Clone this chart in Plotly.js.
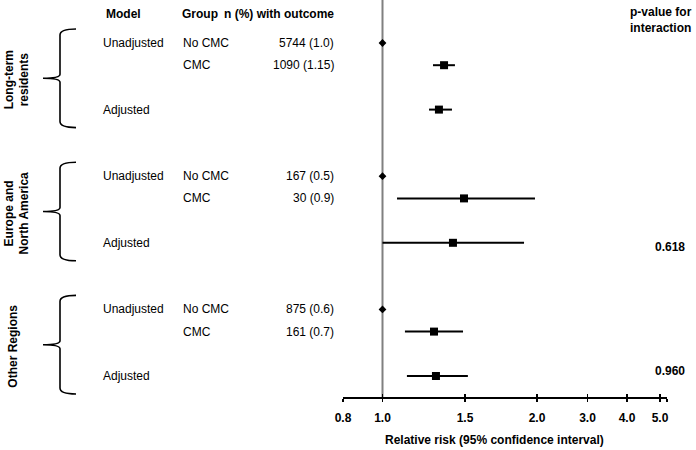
<!DOCTYPE html>
<html>
<head>
<meta charset="utf-8">
<script src="https://cdn.plot.ly/plotly-3.0.1.min.js"></script>
<style>html,body{margin:0;padding:0;background:#fff;}#chart{width:696px;height:450px;}</style>
</head>
<body>
<div id="chart"></div>
<script>
// ---------- data ----------
const regions = ['Long-term<br>residents', 'Europe and<br>North America', 'Other Regions'];
const rowModel = ['Unadjusted', '', 'Adjusted'];
const rowGroup = ['No CMC', 'CMC', ''];
const nOutcome = [
  ['5744 (1.0)', '1090 (1.15)', ''],
  ['167 (0.5)', '30 (0.9)', ''],
  ['875 (0.6)', '161 (0.7)', '']
];
const rr     = [[1.0, 1.373, 1.342], [1.0, 1.494, 1.427], [1.0, 1.312, 1.324]];
const ciLow  = [[null, 1.306, 1.282], [null, 1.088, 1.000], [null, 1.136, 1.148]];
const ciHigh = [[null, 1.439, 1.421], [null, 1.986, 1.910], [null, 1.488, 1.520]];
const pInteraction = ['', '0.618', '0.960'];
const tickVals = [0.8, 1.0, 1.5, 2.0, 3.0, 4.0, 5.0];
const tickText = ['0.8', '1.0', '1.5', '2.0', '3.0', '4.0', '5.0'];

// ---------- axis scale (hand-drawn, piecewise) ----------
const AXIS_POS = [-0.395, 0, 0.825, 1.545, 2.05, 2.445, 2.775];
const AXIS_END = 2.845;
function scale(v) {
  for (let i = 0; i < tickVals.length - 1; i++) {
    if (v <= tickVals[i + 1] || i === tickVals.length - 2) {
      const t = (v - tickVals[i]) / (tickVals[i + 1] - tickVals[i]);
      return AXIS_POS[i] + t * (AXIS_POS[i + 1] - AXIS_POS[i]);
    }
  }
}

// ---------- layout constants ----------
const W = 696, PLOT_H = 397;
const ROW_OFF = [0, 1, 3], GROUP_STEP = 6;
const ROW0_PX = 43, ROW_PX = 22.2;
const rowIdx = (g, k) => g * GROUP_STEP + ROW_OFF[k];
const pxX = p => p / W;
const pxY = p => 1 - p / PLOT_H;
const rowPx = r => ROW0_PX + r * ROW_PX;
const FONT = 'Liberation Sans, Arial, sans-serif';

// ---------- traces ----------
const refX = [], refY = [], estX = [], estY = [], ePlus = [], eMinus = [];
regions.forEach((_, g) => {
  rowModel.forEach((_, k) => {
    if (ciLow[g][k] === null) {
      refX.push(scale(rr[g][k])); refY.push(rowIdx(g, k));
    } else {
      const c = scale(rr[g][k]);
      estX.push(c); estY.push(rowIdx(g, k));
      ePlus.push(scale(ciHigh[g][k]) - c);
      eMinus.push(c - scale(ciLow[g][k]));
    }
  });
});

const traces = [
  {
    x: refX, y: refY, type: 'scatter', mode: 'markers',
    marker: {symbol: 'diamond', size: 6, color: '#000'},
    hoverinfo: 'skip', showlegend: false
  },
  {
    x: estX, y: estY, type: 'scatter', mode: 'markers',
    marker: {symbol: 'square', size: 8, color: '#000'},
    error_x: {type: 'data', symmetric: false, array: ePlus, arrayminus: eMinus,
              color: '#000', thickness: 2, width: 0},
    hoverinfo: 'skip', showlegend: false
  },
  // invisible trace on overlay axis for crossing ticks
  {x: [AXIS_POS[0]], y: [0], xaxis: 'x2', type: 'scatter', mode: 'markers',
   marker: {opacity: 0}, hoverinfo: 'skip', showlegend: false}
];

// ---------- annotations ----------
const ann = [];
const txt = (text, xp, y, anchor, opts) => Object.assign({
  text, x: pxX(xp), xref: 'paper', y, yref: 'y', xanchor: anchor, yanchor: 'middle',
  showarrow: false, font: {family: FONT, size: 12, color: '#000'}
}, opts || {});

// headers
ann.push(txt('<b>Model</b>', 104, pxY(14), 'left', {yref: 'paper'}));
ann.push(txt('<b>Group</b>', 180, pxY(14), 'left', {yref: 'paper'}));
ann.push(txt('<b>n (%) with outcome</b>', 336, pxY(14), 'right', {yref: 'paper'}));
ann.push(txt('<b>p-value for<br>interaction</b>', 694, pxY(20), 'right', {yref: 'paper', align: 'right'}));

regions.forEach((name, g) => {
  rowModel.forEach((m, k) => {
    const r = rowIdx(g, k);
    if (m) ann.push(txt(m, 101, r, 'left'));
    if (rowGroup[k]) ann.push(txt(rowGroup[k], 181, r, 'left'));
    if (nOutcome[g][k]) ann.push(txt(nOutcome[g][k], 336, r, 'right'));
  });
  const top = rowPx(rowIdx(g, 0)) - 14, bot = rowPx(rowIdx(g, 2)) + 18, mid = (top + bot) / 2;
  ann.push(txt('<b>' + name + '</b>', name.indexOf('<br>') >= 0 ? 17 : 13, pxY(mid + 2), 'center',
               {yref: 'paper', textangle: -90, xanchor: 'center'}));
  if (pInteraction[g]) {
    ann.push(txt('<b>' + pInteraction[g] + '</b>', 687, rowIdx(g, 2), 'right',
                 {yshift: g === 1 ? -4 : 5}));
  }
});
ann.push(txt('<b>Relative risk (95% confidence interval)</b>', 494, pxY(440), 'center',
             {yref: 'paper', font: {family: FONT, size: 12, color: '#000'}}));

// ---------- shapes ----------
const shapes = [
  {type: 'line', xref: 'x', yref: 'paper', x0: scale(1.0), x1: scale(1.0), y0: 0, y1: 1,
   line: {color: '#808080', width: 2}, layer: 'below'}
];
regions.forEach((_, g) => {
  const top = rowPx(rowIdx(g, 0)) - 14, bot = rowPx(rowIdx(g, 2)) + 18, mid = (top + bot) / 2;
  const P = (x, y) => pxX(x) + ',' + pxY(y);
  const path = 'M ' + P(76, top) + ' Q ' + P(60, top) + ' ' + P(60, top + 6) +
    ' L ' + P(60, mid - 4) + ' Q ' + P(60, mid) + ' ' + P(43, mid) +
    ' Q ' + P(60, mid) + ' ' + P(60, mid + 4) +
    ' L ' + P(60, bot - 6) + ' Q ' + P(60, bot) + ' ' + P(76, bot);
  shapes.push({type: 'path', xref: 'paper', yref: 'paper', path, line: {color: '#000', width: 1.6}});
});

const allTickPos = AXIS_POS.concat([AXIS_END]);
const allTickText = tickText.concat(['']);
const xCommon = {
  domain: [343 / W, 667 / W], range: [AXIS_POS[0], AXIS_END],
  tickmode: 'array', tickvals: allTickPos, showgrid: false, zeroline: false,
  ticklen: 3, tickwidth: 1.5, tickcolor: '#000', fixedrange: true
};

const layout = {
  width: 696, height: 450,
  margin: {l: 0, r: 0, t: 0, b: 450 - PLOT_H},
  paper_bgcolor: '#fff', plot_bgcolor: '#fff',
  showlegend: false,
  xaxis: Object.assign({}, xCommon, {
    ticktext: allTickText, ticks: 'outside', showline: true, linecolor: '#000', linewidth: 2,
    tickfont: {family: FONT, size: 12, color: '#000', weight: 'bold'}, ticklabelstandoff: 6
  }),
  xaxis2: Object.assign({}, xCommon, {
    overlaying: 'x', anchor: 'y', side: 'bottom', ticks: 'inside', showticklabels: false,
    showline: false
  }),
  yaxis: {range: [(PLOT_H - ROW0_PX) / ROW_PX, -ROW0_PX / ROW_PX], visible: false,
          showgrid: false, zeroline: false, fixedrange: true},
  annotations: ann,
  shapes: shapes
};

Plotly.newPlot('chart', traces, layout, {staticPlot: true, displayModeBar: false});
</script>
</body>
</html>
